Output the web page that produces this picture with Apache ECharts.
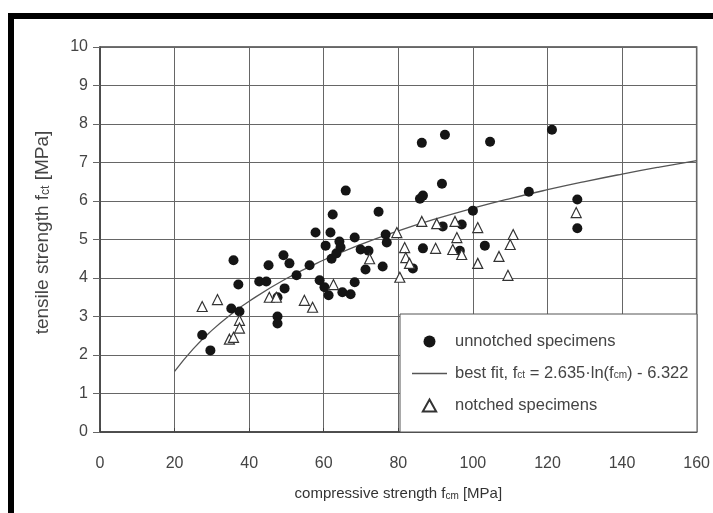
<!DOCTYPE html>
<html>
<head>
<meta charset="utf-8">
<script src="https://cdn.jsdelivr.net/npm/echarts@6/dist/echarts.min.js"></script>
<style>
html,body{margin:0;padding:0;background:#fff;}
#c{width:713px;height:513px;}
</style>
</head>
<body>
<div id="c"></div>
<script>
// compressive strength f_cm [MPa] / tensile strength f_ct [MPa]
var unnotchedX = [27.4,29.6,35.8,37.1,35.2,37.4,45.2,42.7,44.6,49.2,50.8,47.6,47.6,49.5,47.6,52.7,56.2,60.5,62.1,58.9,60.2,61.3,65.9,62.4,74.7,57.8,61.8,64.2,64.5,63.4,68.3,69.9,72.0,71.2,75.8,76.6,76.9,68.3,65.0,67.2,85.8,86.6,91.7,86.6,91.9,83.9,100.0,97.0,103.2,96.5,86.3,92.5,104.6,121.2,115.0,128.0,128.0];
var unnotchedY = [2.52,2.12,4.46,3.83,3.21,3.13,4.33,3.91,3.91,4.59,4.38,3.00,2.82,3.73,3.50,4.07,4.33,4.84,4.50,3.94,3.76,3.55,6.27,5.65,5.72,5.18,5.18,4.95,4.80,4.64,5.05,4.74,4.71,4.22,4.30,5.13,4.92,3.89,3.63,3.58,6.06,6.14,6.45,4.77,5.34,4.25,5.75,5.39,4.84,4.71,7.51,7.72,7.54,7.85,6.24,6.04,5.29];
var notchedX = [27.4,31.5,37.4,37.4,34.7,35.8,45.4,47.3,54.8,57.0,62.6,72.3,79.6,86.3,90.3,95.2,95.7,81.7,82.0,83.0,80.4,90.0,94.6,97.0,101.3,101.3,107.0,110.8,110.0,109.4,127.7];
var notchedY = [3.26,3.44,2.90,2.70,2.41,2.46,3.50,3.50,3.42,3.24,3.83,4.50,5.18,5.47,5.41,5.47,5.05,4.79,4.53,4.38,4.02,4.77,4.74,4.61,5.31,4.38,4.56,5.13,4.87,4.07,5.70];
var fitX = [20,25,30,35,40,50,60,70,80,90,100,110,120,130,140,150,160];
var fitY = [1.572,2.160,2.640,3.046,3.398,3.986,4.467,4.873,5.225,5.535,5.813,6.064,6.293,6.504,6.699,6.881,7.051];
var xTicks = [0,20,40,60,80,100,120,140,160];
var yTicks = [0,1,2,3,4,5,6,7,8,9,10];
var seriesNames = ['unnotched specimens','best fit','notched specimens'];

function pairs(xs, ys){ return xs.map(function(x,i){ return [x, ys[i]]; }); }

var chart = echarts.init(document.getElementById('c'), null, {renderer:'canvas'});
var FONT = '"Liberation Sans", Arial, sans-serif';
var option = {
  backgroundColor: '#fff',
  animation: false,
  grid: {left: 100, top: 47, right: 16, bottom: 81, show: true, borderColor: '#444', borderWidth: 1.5, backgroundColor: 'transparent'},
  xAxis: {
    type: 'value', min: xTicks[0], max: xTicks[xTicks.length-1], interval: 20,
    name: 'compressive strength f{sub|cm} [MPa]', nameLocation: 'middle', nameGap: 54,
    nameTextStyle: {color: '#333', fontSize: 15, fontFamily: FONT,
      rich: {sub: {fontSize: 10, verticalAlign: 'bottom', fontFamily: FONT, color: '#333'}}},
    axisLine: {show: true, lineStyle: {color: '#444', width: 1.5}},
    axisTick: {show: true, inside: true, length: 4, lineStyle: {color: '#444'}},
    axisLabel: {color: '#444', fontSize: 16, fontFamily: FONT, margin: 24},
    splitLine: {show: true, lineStyle: {color: '#666', width: 1}}
  },
  yAxis: {
    type: 'value', min: yTicks[0], max: yTicks[yTicks.length-1], interval: 1,
    name: 'tensile strength f{sub|ct} [MPa]', nameLocation: 'middle', nameGap: 48,
    nameTextStyle: {color: '#444', fontSize: 19, fontFamily: FONT, padding: [0, 0, 0, 14],
      rich: {sub: {fontSize: 12, verticalAlign: 'bottom', fontFamily: FONT, color: '#444'}}},
    axisLine: {show: true, lineStyle: {color: '#444', width: 1.5}},
    axisTick: {show: true, inside: false, length: 7, lineStyle: {color: '#666'}},
    axisLabel: {color: '#444', fontSize: 16, fontFamily: FONT, margin: 12},
    splitLine: {show: true, lineStyle: {color: '#666', width: 1}}
  },
  graphic: [
    {type: 'rect', z: 50, shape: {x: 400, y: 314, width: 297, height: 118},
      style: {fill: '#fff', stroke: '#555', lineWidth: 1}},
    {type: 'rect', z: 100, shape: {x: 11, y: 16, width: 800, height: 600},
      style: {fill: 'none', stroke: '#000', lineWidth: 6}}
  ],
  legend: {
    z: 60, orient: 'vertical', left: 412, top: 333, padding: 0,
    itemWidth: 35, itemHeight: 12, itemGap: 15, selectedMode: false,
    symbolKeepAspect: true,
    data: [
      {name: seriesNames[0], icon: 'circle'},
      {name: seriesNames[1], icon: 'path://M0,0H100V3.6H0Z'},
      {name: seriesNames[2], icon: 'path://M5,0L10,9L0,9Z'}
    ],
    textStyle: {color: '#444', fontSize: 16.5, fontFamily: FONT, lineHeight: 14, padding: [0,0,0,3],
      rich: {sub: {fontSize: 10, verticalAlign: 'bottom', fontFamily: FONT, color: '#444', lineHeight: 14}}},
    formatter: function(n){
      if (n === 'best fit') return 'best fit, f{sub|ct} = 2.635·ln(f{sub|cm}) - 6.322';
      return n;
    }
  },
  series: [
    {name: seriesNames[0], type: 'scatter', data: pairs(unnotchedX, unnotchedY), symbol: 'circle', symbolSize: 10,
      itemStyle: {color: '#151515', opacity: 1}, z: 3},
    {name: seriesNames[1], type: 'line', data: pairs(fitX, fitY), smooth: true, showSymbol: false, symbol: 'none',
      itemStyle: {color: '#555'}, lineStyle: {color: '#555', width: 1.3}, z: 2},
    {name: seriesNames[2], type: 'scatter', data: pairs(notchedX, notchedY), symbol: 'triangle', symbolSize: 10,
      itemStyle: {color: '#fff', borderColor: '#333', borderWidth: 1.2, opacity: 1}, z: 4}
  ]
};
chart.setOption(option);
</script>
</body>
</html>
